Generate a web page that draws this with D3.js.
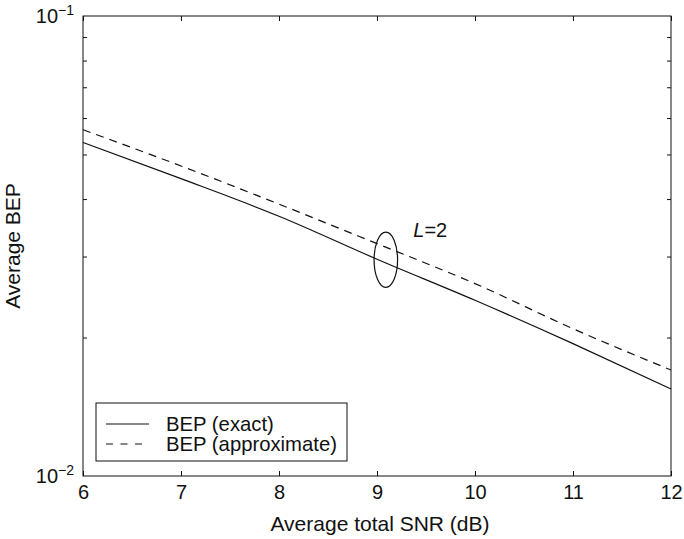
<!DOCTYPE html>
<html><head><meta charset="utf-8">
<script src="https://cdn.jsdelivr.net/npm/d3@7"></script>
<style>
body{margin:0;background:#fff;}
text{font-family:"Liberation Sans",Arial,Helvetica,sans-serif;fill:#111;}
</style></head>
<body><svg id="c" width="684" height="539"></svg>
<script>
const snr = [6, 7, 8, 9, 10, 11, 12];
const bepExact = [0.0531, 0.0443, 0.0367, 0.0296, 0.0241, 0.0194, 0.01546];
const bepApprox = [0.0566, 0.0472, 0.0390, 0.0320, 0.0262, 0.0209, 0.0170];
const xTicks = [6, 7, 8, 9, 10, 11, 12];
const yMajor = [0.1, 0.01];
const yMinor = [0.02, 0.03, 0.04, 0.05, 0.06, 0.07, 0.08, 0.09];
const seriesNames = ["BEP (exact)", "BEP (approximate)"];
const annot = {x: 9.09, y: 0.0295, xr: 0.12, yTop: 0.0339, yBot: 0.0257, labelX: 9.37, labelY: 0.0331};

const L = 83, R = 671, T = 16, B = 476;
const svg = d3.select("#c");
const x = d3.scaleLinear().domain([6, 12]).range([L, R]);
const y = d3.scaleLog().domain([0.01, 0.1]).range([B, T]);
const ink = "#111";
const fs = 20;

// frame
svg.append("rect").attr("x", L).attr("y", T).attr("width", R - L).attr("height", B - T)
  .attr("fill", "none").attr("stroke", ink).attr("stroke-width", 1);

// x ticks (bottom and top, inward)
const xb = svg.append("g").attr("transform", `translate(0,${B})`)
  .call(d3.axisBottom(x).tickValues(xTicks).tickSizeInner(-5).tickSizeOuter(0).tickPadding(9).tickFormat(d3.format("d")));
xb.select(".domain").remove();
xb.selectAll("line").attr("stroke", ink);
xb.selectAll("text").attr("font-size", fs).attr("fill", ink).style("font-family", "Liberation Sans, Arial, sans-serif");
const xt = svg.append("g").attr("transform", `translate(0,${T})`)
  .call(d3.axisTop(x).tickValues(xTicks).tickSizeInner(-5).tickSizeOuter(0).tickFormat(""));
xt.select(".domain").remove();
xt.selectAll("line").attr("stroke", ink);

// y ticks minor left/right inward
const yl = svg.append("g").attr("transform", `translate(${L},0)`)
  .call(d3.axisLeft(y).tickValues(yMinor).tickSizeInner(-4).tickSizeOuter(0).tickFormat(""));
yl.select(".domain").remove();
yl.selectAll("line").attr("stroke", ink);
const yr = svg.append("g").attr("transform", `translate(${R},0)`)
  .call(d3.axisRight(y).tickValues(yMinor).tickSizeInner(-4).tickSizeOuter(0).tickFormat(""));
yr.select(".domain").remove();
yr.selectAll("line").attr("stroke", ink);

// y major labels 10^-1, 10^-2
yMajor.forEach(v => {
  const e = Math.round(Math.log10(v));
  const t = svg.append("text").attr("x", L - 9).attr("y", y(v) + 7)
    .attr("text-anchor", "end").attr("font-size", fs);
  t.append("tspan").text("10");
  t.append("tspan").attr("dy", -8).attr("font-size", 14).text("\u2212" + Math.abs(e));
});

// lines
const line = d3.line().x(d => x(d[0])).y(d => y(d[1])).curve(d3.curveMonotoneX);
svg.append("path").datum(snr.map((s, i) => [s, bepExact[i]]))
  .attr("d", line).attr("fill", "none").attr("stroke", ink).attr("stroke-width", 1.2);
svg.append("path").datum(snr.map((s, i) => [s, bepApprox[i]]))
  .attr("d", line).attr("fill", "none").attr("stroke", ink).attr("stroke-width", 1.2)
  .attr("stroke-dasharray", "8,6");

// ellipse annotation
svg.append("ellipse").attr("cx", x(annot.x)).attr("cy", (y(annot.yTop) + y(annot.yBot)) / 2)
  .attr("rx", x(annot.x + annot.xr) - x(annot.x)).attr("ry", (y(annot.yBot) - y(annot.yTop)) / 2)
  .attr("fill", "none").attr("stroke", ink).attr("stroke-width", 1.2);
const lt = svg.append("text").attr("x", x(annot.labelX)).attr("y", y(annot.labelY)).attr("font-size", fs);
lt.append("tspan").attr("font-style", "italic").text("L");
lt.append("tspan").text("=2");

// legend
const lg = svg.append("g");
lg.append("rect").attr("x", 96).attr("y", 403).attr("width", 251).attr("height", 58)
  .attr("fill", "#fff").attr("stroke", ink).attr("stroke-width", 1);
[0, 1].forEach(i => {
  const yy = 424 + i * 20;
  lg.append("line").attr("x1", 106).attr("x2", 149).attr("y1", yy).attr("y2", yy)
    .attr("stroke", ink).attr("stroke-width", 1.2).attr("stroke-dasharray", i ? "7,7.5" : null);
  lg.append("text").attr("x", 166).attr("y", yy + 7).attr("font-size", 20.3).text(seriesNames[i]);
});

// axis titles
svg.append("text").attr("x", (L + R) / 2 + 3).attr("y", 531).attr("text-anchor", "middle")
  .attr("font-size", 21).text("Average total SNR (dB)");
svg.append("text").attr("transform", `translate(20,${(T + B) / 2}) rotate(-90)`)
  .attr("text-anchor", "middle").attr("font-size", 21).text("Average BEP");
</script></body></html>
